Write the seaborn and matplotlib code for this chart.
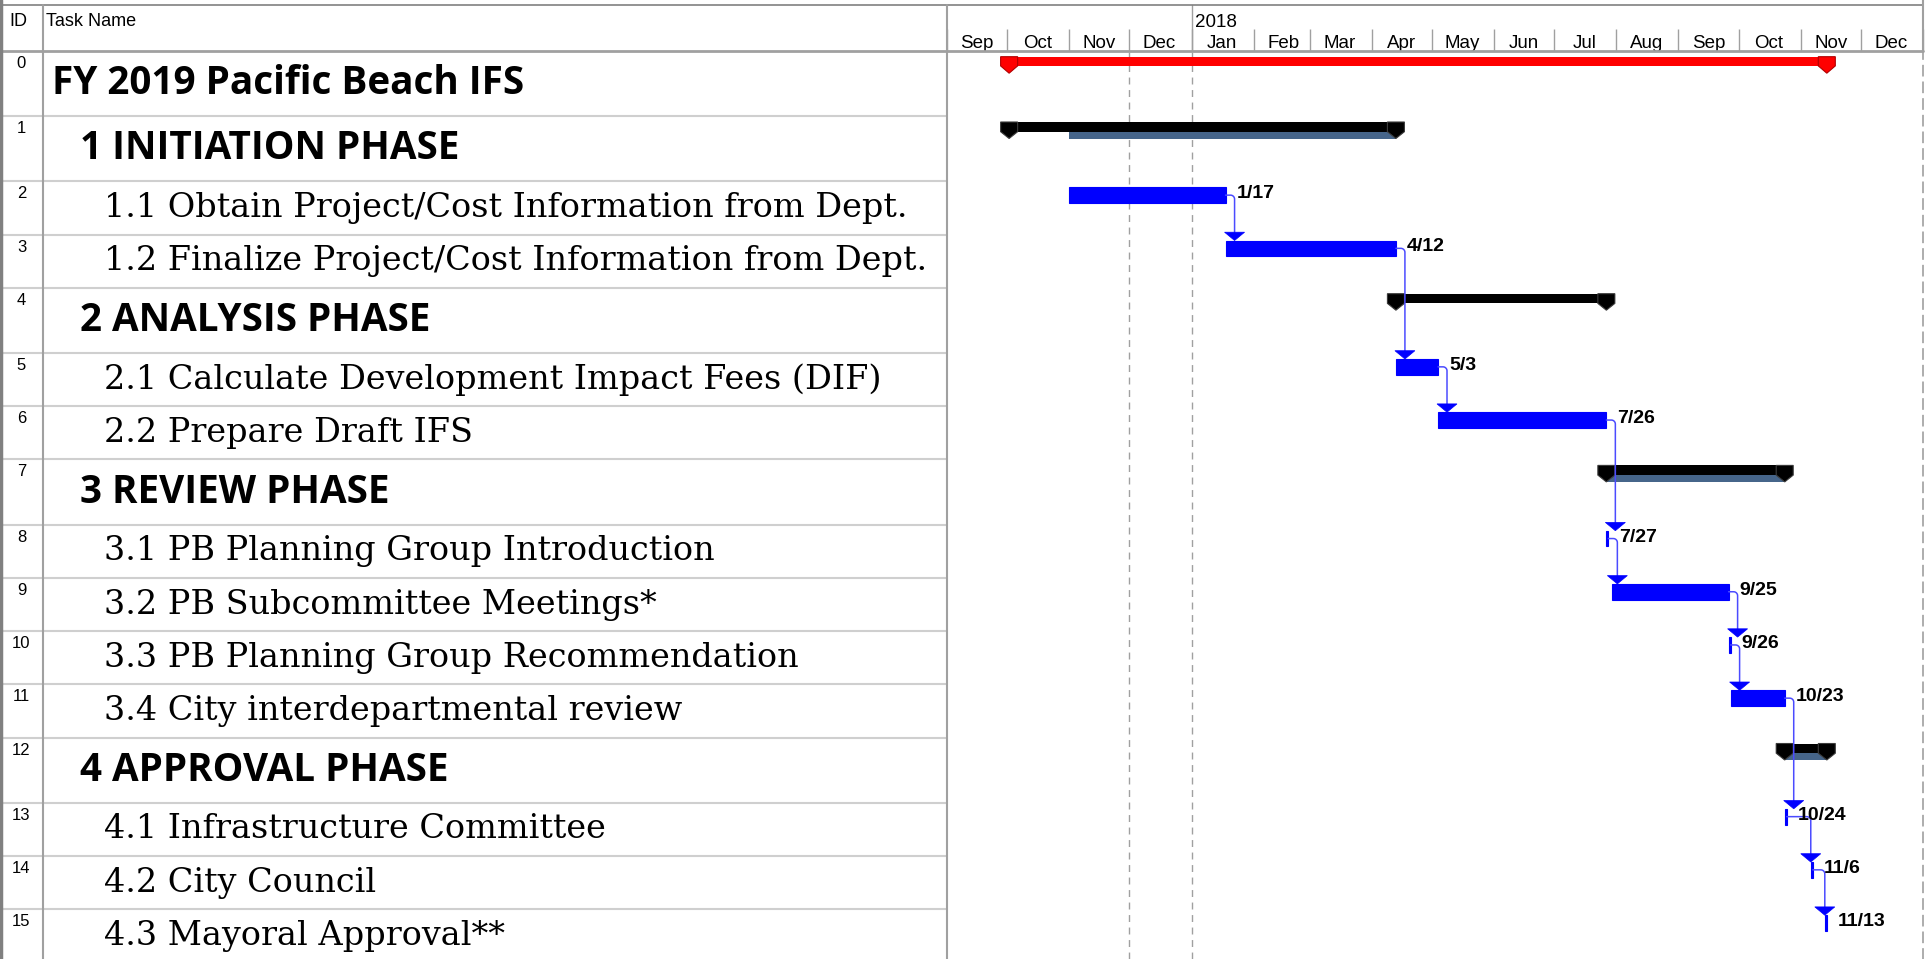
import matplotlib
matplotlib.use("Agg")
import numpy as np
import pandas as pd
import matplotlib.pyplot as plt
import matplotlib.dates as mdates
from matplotlib.patches import Polygon
from matplotlib.lines import Line2D
import seaborn as sns

# Schedule
task_ids = list(range(16))
task_names = [
    "FY 2019 Pacific Beach IFS",
    "1 INITIATION PHASE",
    "1.1 Obtain Project/Cost Information from Dept.",
    "1.2 Finalize Project/Cost Information from Dept.",
    "2 ANALYSIS PHASE",
    "2.1 Calculate Development Impact Fees (DIF)",
    "2.2 Prepare Draft IFS",
    "3 REVIEW PHASE",
    "3.1 PB Planning Group Introduction",
    "3.2 PB Subcommittee Meetings*",
    "3.3 PB Planning Group Recommendation",
    "3.4 City interdepartmental review",
    "4 APPROVAL PHASE",
    "4.1 Infrastructure Committee",
    "4.2 City Council",
    "4.3 Mayoral Approval**",
]
outline_levels = [0, 1, 2, 2, 1, 2, 2, 1, 2, 2, 2, 2, 1, 2, 2, 2]
start_dates = ["2017-10-02", "2017-10-02", "2017-11-01", "2018-01-18", "2018-04-13", "2018-04-13",
               "2018-05-04", "2018-07-27", "2018-07-27", "2018-07-30", "2018-09-26", "2018-09-27",
               "2018-10-24", "2018-10-24", "2018-11-06", "2018-11-13"]
finish_dates = ["2018-11-13", "2018-04-12", "2018-01-17", "2018-04-12", "2018-07-26", "2018-05-03",
                "2018-07-26", "2018-10-23", "2018-07-27", "2018-09-25", "2018-09-26", "2018-10-23",
                "2018-11-13", "2018-10-24", "2018-11-06", "2018-11-13"]
# start of the slate rollup bar under some summary rows
rollup_starts = [None, "2017-11-01", None, None, None, None, None, "2018-07-27",
                 None, None, None, None, "2018-10-24", None, None, None]
predecessors = [None, None, None, 2, None, 3, 5, None, 6, 8, 9, 10, None, 11, 13, 14]
timescale = ("2017-09-01", "2019-01-01")
year_label = "2018"
dashed_dates = ["2017-12-01", "2018-01-01"]

# layout (pixels of the 1931 x 959 image)
W, H = 1931, 959
HEAD = 50.7
TOP_LINE = 5
ID_COL = 43
TABLE_R = 947
CHART_R = 1923
ROW_SUMMARY = 65.3
ROW_TASK = 53.2
BAR_OFF = 6.0
BAR_H = 15.7
CAP_TIP = 22.5
CAP_HW = 8.5
LINE = "#a0a0a0"
GRID = "#cfcfcf"
BLUE = "#0000ff"

sns.set_theme(style="white")
plt.rcParams["font.family"] = ["Liberation Sans", "DejaVu Sans"]
plt.rcParams["text.color"] = "black"

df = pd.DataFrame({
    "id": task_ids,
    "name": task_names,
    "level": outline_levels,
    "start": pd.to_datetime(start_dates),
    "finish": pd.to_datetime(finish_dates),
    "rollup": pd.to_datetime(rollup_starts),
})
df["h"] = np.where(df["level"] <= 1, ROW_SUMMARY, ROW_TASK)
df["top"] = df["h"].cumsum() - df["h"]
df["s"] = mdates.date2num(df["start"])
df["e"] = mdates.date2num(df["finish"]) + 1  # end of the finish day

body_h = H - HEAD
fig = plt.figure(figsize=(W / 100, H / 100), dpi=100)
renderer = fig.canvas.get_renderer()


def fx(x):
    return x / W


def fy(y):
    return 1 - y / H


def fit_size(text, width_px, **kw):
    probe = fig.text(0, 0, text, fontsize=20, **kw)
    w = probe.get_window_extent(renderer).width
    probe.remove()
    return 20 * width_px / w


bold_kw = dict(family="Open Sans", fontweight="bold")
serif_kw = dict(family="DejaVu Serif")
bold_size = fit_size("FY 2019 Pacific Beach IFS", 472, **bold_kw)
serif_size = fit_size("1.2 Finalize Project/Cost Information from Dept.", 822, **serif_kw)

# ---- task table ----
ax_t = fig.add_axes([0, 0, TABLE_R / W, body_h / H])
ax_t.set_xlim(0, TABLE_R)
ax_t.set_ylim(body_h, 0)
ax_t.axis("off")
indent = {0: 52, 1: 80, 2: 104}
for _, r in df.iterrows():
    ax_t.axhline(r.top + r.h, color=GRID, lw=1.5)
    ax_t.text(ID_COL / 2, r.top + 5, str(r.id), ha="center", va="top", fontsize=12)
    if r.level <= 1:
        ax_t.text(indent[r.level], r.top + r.h / 2, r["name"], va="center", fontsize=bold_size, **bold_kw)
    else:
        ax_t.text(indent[r.level], r.top + r.h / 2, r["name"], va="center", fontsize=serif_size, **serif_kw)

# frame lines and header
fig.add_artist(Line2D([0, fx(CHART_R)], [fy(TOP_LINE), fy(TOP_LINE)], color="#808080", lw=1.2))
fig.add_artist(Line2D([0, fx(CHART_R)], [fy(HEAD), fy(HEAD)], color=LINE, lw=2))
fig.add_artist(Line2D([fx(1), fx(1)], [0, 1], color="#808080", lw=2.5))
fig.add_artist(Line2D([fx(ID_COL), fx(ID_COL)], [0, fy(TOP_LINE)], color=LINE, lw=1.5))
fig.add_artist(Line2D([fx(TABLE_R), fx(TABLE_R)], [0, fy(TOP_LINE)], color=LINE, lw=1.5))
fig.add_artist(Line2D([fx(CHART_R), fx(CHART_R)], [fy(HEAD), 1], color=LINE, lw=1.5))
fig.text(fx(9), fy(13), "ID", va="top", fontsize=13)
fig.text(fx(46), fy(13), "Task Name", va="top", fontsize=13)

# ---- gantt ----
ax = fig.add_axes([TABLE_R / W, 0, (CHART_R - TABLE_R) / W, body_h / H])
x0, x1 = mdates.date2num(pd.to_datetime(list(timescale)))
ax.set_xlim(x0, x1)
ax.set_ylim(body_h, 0)
dpp = (x1 - x0) / (CHART_R - TABLE_R)  # days per pixel

ax.xaxis.tick_top()
ax.xaxis.set_major_locator(mdates.MonthLocator())
ax.xaxis.set_major_formatter(plt.NullFormatter())
ax.xaxis.set_minor_locator(mdates.MonthLocator(bymonthday=16))
ax.xaxis.set_minor_formatter(mdates.DateFormatter("%b"))
ax.tick_params(axis="x", which="major", direction="out", length=(HEAD - 29) * 0.72, width=1, color=LINE)
ax.tick_params(axis="x", which="minor", length=0, pad=-1, labelsize=13.5, labelcolor="black")
ax.tick_params(axis="y", left=False, labelleft=False)
ax.set_yticks([])
for side in ["top", "bottom", "left"]:
    ax.spines[side].set_visible(False)
ax.spines["right"].set_color(LINE)
ax.spines["right"].set_linestyle((0, (6, 4)))
ax.spines["right"].set_linewidth(1.2)

jan = mdates.date2num(pd.Timestamp(year_label + "-01-01"))
ax.plot([jan, jan], [0, -(HEAD - TOP_LINE)], color=LINE, lw=1, clip_on=False)
ax.text(jan + 3 * dpp, -(HEAD - 27), year_label, va="baseline", fontsize=13.5, clip_on=False)
for d in dashed_dates:
    ax.axvline(mdates.date2num(pd.Timestamp(d)), color=LINE, lw=1, ls=(0, (5, 4)), zorder=0)

# summary bars
for i, r in df[df["level"] <= 1].iterrows():
    red = r.level == 0
    face = "#ff0000" if red else "#000000"
    edge = "#b00000" if red else "#3c3c3c"
    bh = 9.2 if red else 9.7
    top = r.top + BAR_OFF
    if not pd.isna(r.rollup):
        rs = mdates.date2num(r.rollup)
        ax.barh(top + bh, r.e - rs, left=rs, height=CAP_TIP - BAR_OFF - bh, align="edge",
                color="#46658a", lw=0, zorder=2)
    ax.barh(top, r.e - r.s + 2 * CAP_HW * dpp, left=r.s - CAP_HW * dpp, height=bh,
            align="edge", color=face, lw=0, zorder=3)
    for xc in (r.s, r.e):
        hw = CAP_HW * dpp
        cap = [(xc - hw, top), (xc + hw, top), (xc + hw, top + bh),
               (xc, r.top + CAP_TIP), (xc - hw, top + bh)]
        ax.add_patch(Polygon(cap, closed=True, facecolor=face, edgecolor=edge, lw=0.8, zorder=4))

# task bars
tasks = df[df["level"] == 2]
ax.barh(tasks["top"] + BAR_OFF, tasks["e"] - tasks["s"], left=tasks["s"], height=BAR_H,
        align="edge", color=BLUE, edgecolor=BLUE, lw=0.8, zorder=3)
for _, r in tasks.iterrows():
    ax.text(r.e + 11 * dpp, r.top + BAR_OFF + BAR_H / 2 - 1.5, f"{r.finish.month}/{r.finish.day}",
            va="center", fontsize=14, fontweight="bold", color="black", zorder=6)

# finish-to-start links
theta = np.linspace(np.pi / 2, 0, 10)
rad = 4
for i, p in enumerate(predecessors):
    if p is None:
        continue
    pe = df.loc[p, "e"]
    ym = df.loc[p, "top"] + BAR_OFF + BAR_H / 2
    vx = max(pe + 9 * dpp, df.loc[i, "s"])
    ytop = df.loc[i, "top"] + BAR_OFF
    cx, cy = vx - rad * dpp, ym + rad
    xs = np.concatenate([[pe], cx + rad * dpp * np.cos(theta), [vx]])
    ys = np.concatenate([[ym], cy - rad * np.sin(theta), [ytop - 8]])
    ax.plot(xs, ys, color="#4b4bff", lw=1.1, zorder=5)
    arrow = [(vx - 10 * dpp, ytop - 8.3), (vx + 10 * dpp, ytop - 8.3), (vx, ytop)]
    ax.add_patch(Polygon(arrow, closed=True, facecolor=BLUE, edgecolor=BLUE, lw=0.5, zorder=5))

fig.savefig("out.png", dpi=100)
